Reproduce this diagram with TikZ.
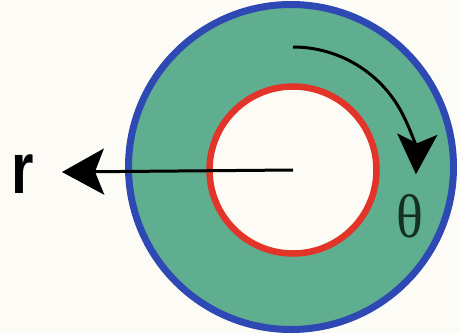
\documentclass[tikz,border=0pt]{standalone}
\usepackage{fontspec}
\setsansfont{Liberation Sans}
\newfontfamily\greekserif{Liberation Serif}
\usetikzlibrary{arrows.meta}
\definecolor{bgc}{RGB}{253,251,245}
\definecolor{ringgreen}{RGB}{96,174,144}
\definecolor{ringblue}{RGB}{46,72,180}
\definecolor{ringred}{RGB}{226,52,40}
\definecolor{thetac}{RGB}{20,50,35}
\tikzset{
  pointer/.style={line width=3pt, -{Stealth[length=42pt,width=46pt,inset=9pt]}},
  turn/.style={line width=3pt, -{Stealth[length=40pt,width=40pt,inset=9pt]}},
}
\begin{document}
\begin{tikzpicture}[x=1pt,y=-1pt]
\fill[bgc] (0,0) rectangle (460,333);
\useasboundingbox (0,0) rectangle (460,333);
\coordinate (c) at (291,167);
\coordinate (ci) at (293,170);
\node[circle, draw=ringblue, line width=7pt, fill=ringgreen, minimum size=325pt, inner sep=0pt] (outer) at (c) {};
\node[circle, draw=ringred, line width=6.5pt, fill=bgc, minimum size=167pt, inner sep=0pt] (inner) at (ci) {};
\coordinate (rtip) at (62,172);
\draw[pointer] (ci) -- (rtip);
\node[font=\sffamily\bfseries\fontsize{72}{72}\selectfont, xscale=0.8, anchor=center] (rlab) at (23,174) {r};
\coordinate (ts) at (293,47);
\draw[turn] (ts) arc[start angle=-90, end angle=2, radius=123];
\node[text=thetac, font=\greekserif\fontsize{56}{56}\selectfont, yscale=1.1] (th) at (410,216) {θ};
\end{tikzpicture}
\end{document}
